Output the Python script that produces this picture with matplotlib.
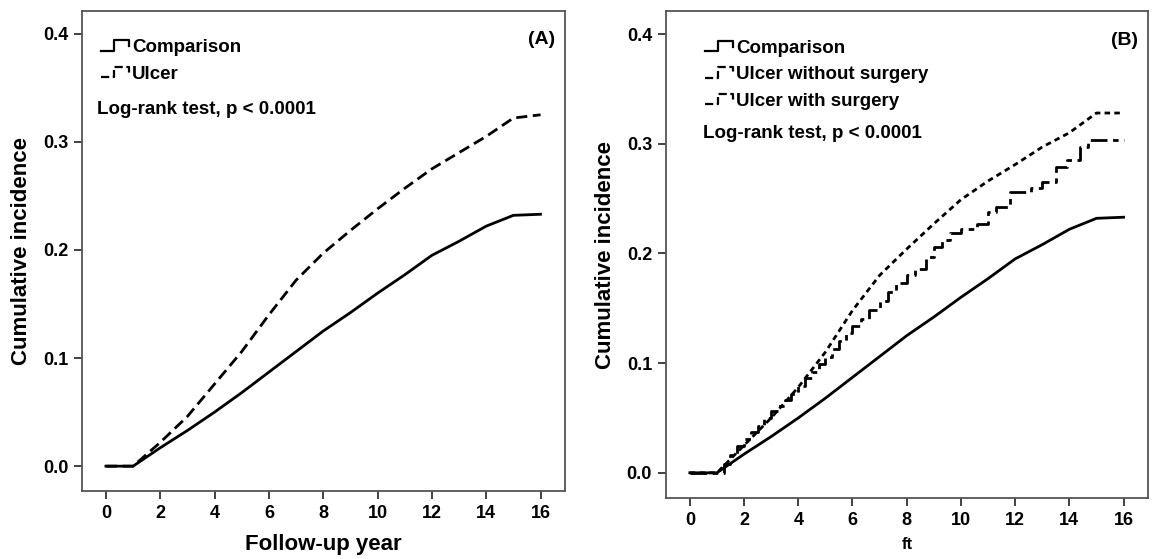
import matplotlib
matplotlib.use('Agg')
import matplotlib.pyplot as plt
from matplotlib.legend_handler import HandlerBase
from matplotlib.lines import Line2D

plt.rcParams['font.family'] = ['Liberation Sans', 'DejaVu Sans']
plt.rcParams['font.weight'] = 'bold'

# cumulative incidence
years = [0, 1, 2, 3, 4, 5, 6, 7, 8, 9, 10, 11, 12, 13, 14, 15, 16]
comparison_cum = [0, 0, 0.017, 0.033, 0.050, 0.068, 0.087, 0.106, 0.125, 0.142,
                  0.160, 0.177, 0.195, 0.208, 0.222, 0.232, 0.233]
ulcer_cum = [0, 0, 0.022, 0.046, 0.076, 0.106, 0.140, 0.172, 0.197, 0.218,
             0.238, 0.257, 0.275, 0.290, 0.305, 0.322, 0.325]
no_surgery_cum = [0, 0, 0.025, 0.050, 0.078, 0.110, 0.148, 0.180, 0.204, 0.227,
                  0.249, 0.266, 0.281, 0.297, 0.310, 0.328, 0.328]
surgery_years = [0, 1, 1.25, 1.5, 1.75, 2, 2.25, 2.5, 2.75, 3, 3.25, 3.5, 3.75, 4,
                 4.25, 4.5, 4.75, 5, 5.25, 5.5, 5.75, 6, 6.3, 6.6, 7, 7.3, 7.6, 8,
                 8.3, 8.7, 9, 9.3, 9.6, 10, 10.6, 11, 11.3, 11.8, 12.6, 13, 13.5,
                 13.9, 14.4, 14.7, 16]
surgery_cum = [0, 0, 0.008, 0.016, 0.024, 0.031, 0.037, 0.043, 0.050, 0.056,
               0.061, 0.066, 0.072, 0.079, 0.086, 0.092, 0.099, 0.106, 0.113, 0.120,
               0.127, 0.134, 0.140, 0.148, 0.157, 0.165, 0.173, 0.180, 0.186, 0.197,
               0.206, 0.212, 0.219, 0.222, 0.227, 0.238, 0.242, 0.256, 0.260, 0.265,
               0.279, 0.285, 0.297, 0.303, 0.303]

x_ticks = [0, 2, 4, 6, 8, 10, 12, 14, 16]
y_ticks = [0.0, 0.1, 0.2, 0.3, 0.4]


class StepHandler(HandlerBase):
    # SPSS style step glyph for the legend
    def create_artists(self, legend, orig_handle, xdescent, ydescent,
                       width, height, fontsize, trans):
        x0, y0 = -xdescent, -ydescent
        xs = [x0, x0 + 0.45 * width, x0 + 0.45 * width, x0 + width, x0 + width]
        ys = [y0 + 0.1 * height, y0 + 0.1 * height, y0 + 0.9 * height,
              y0 + 0.9 * height, y0 + 0.45 * height]
        line = Line2D(xs, ys, color='black', lw=1.6,
                      linestyle=orig_handle.get_linestyle())
        line.set_transform(trans)
        return [line]


def style_axes(ax):
    ax.set_xlim(-0.88, 16.9)
    ax.set_ylim(-0.023, 0.421)
    ax.set_xticks(x_ticks)
    ax.set_yticks(y_ticks)
    ax.set_yticklabels([f"{v:.1f}" for v in y_ticks])
    for s in ax.spines.values():
        s.set_color('#555555')
        s.set_linewidth(1.3)
    ax.tick_params(direction='out', length=6, width=1.3, color='#333333',
                   labelsize=13, pad=4)
    for lab in ax.get_xticklabels() + ax.get_yticklabels():
        lab.set_fontweight('bold')


fig = plt.figure(figsize=(11.57, 5.59), dpi=100)
ax_a = fig.add_axes([0.0709, 0.1216, 0.4174, 0.8587])
ax_b = fig.add_axes([0.5756, 0.1091, 0.4166, 0.8712])

legend_kw = dict(loc='upper left', frameon=False,
                 handler_map={Line2D: StepHandler()}, handlelength=1.5,
                 handletextpad=0.15, labelspacing=0.5, borderaxespad=0,
                 prop={'size': 13.5, 'weight': 'bold'})

# Panel A
ax_a.plot(years, comparison_cum, color='black', lw=2, label='Comparison')
ax_a.plot(years, ulcer_cum, color='black', lw=2, linestyle=(0, (4, 2)), label='Ulcer')
style_axes(ax_a)
ax_a.set_xlabel('Follow-up year', fontsize=16, fontweight='bold', labelpad=9)
ax_a.set_ylabel('Cumulative incidence', fontsize=16, fontweight='bold', labelpad=8)
ax_a.legend(bbox_to_anchor=(0.024, 0.957), **legend_kw)
ax_a.text(0.031, 0.794, 'Log-rank test, p < 0.0001', transform=ax_a.transAxes,
          fontsize=13.5, fontweight='bold', va='center', ha='left')
ax_a.text(0.979, 0.94, '(A)', transform=ax_a.transAxes, fontsize=14,
          fontweight='bold', va='center', ha='right')

# Panel B
ax_b.plot(years, comparison_cum, color='black', lw=2, label='Comparison')
ax_b.plot(years, no_surgery_cum, color='black', lw=2, linestyle=(0, (2, 1.5)),
          label='Ulcer without surgery')
ax_b.plot(surgery_years, surgery_cum, color='black', lw=2, drawstyle='steps-post',
          linestyle=(0, (6, 2, 2, 2)), label='Ulcer with surgery')
style_axes(ax_b)
ax_b.set_xlabel('ft', fontsize=12, fontweight='bold', labelpad=6)
ax_b.set_ylabel('Cumulative incidence', fontsize=16, fontweight='bold', labelpad=8)
ax_b.legend(bbox_to_anchor=(0.066, 0.957), **legend_kw)
ax_b.text(0.077, 0.749, 'Log-rank test, p < 0.0001', transform=ax_b.transAxes,
          fontsize=13.5, fontweight='bold', va='center', ha='left')
ax_b.text(0.979, 0.94, '(B)', transform=ax_b.transAxes, fontsize=14,
          fontweight='bold', va='center', ha='right')

fig.savefig('out.png', dpi=100)
